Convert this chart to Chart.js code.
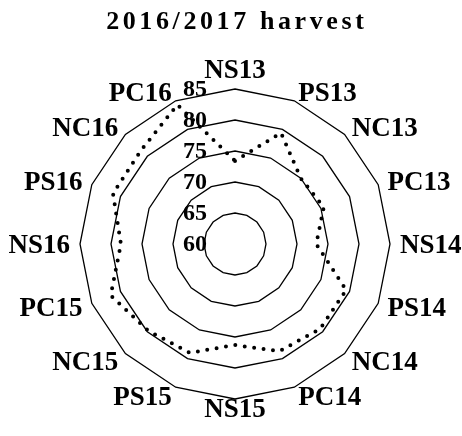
<!DOCTYPE html>
<html>
<head>
<meta charset="utf-8">
<script src="https://cdn.jsdelivr.net/npm/chart.js@4/dist/chart.umd.min.js"></script>
<style>
    body { margin: 0; background: #fff; }
    #wrap { position: relative; width: 462px; height: 436px; }
    #title {
        position: absolute; top: 8px; left: 4px; width: 462px;
        text-align: center; font: bold 26px "Liberation Serif", serif;
        line-height: 26px; letter-spacing: 3.6px; padding-left: 3.6px; box-sizing: border-box;
        color: #000;
    }
</style>
</head>
<body>
<div id="wrap">
    <div id="title">2016/2017 harvest</div>
    <canvas id="radarChart" width="462" height="436"></canvas>
</div>
<script>
const categories = ['NS13', 'PS13', 'NC13', 'PC13', 'NS14', 'PS14', 'NC14', 'PC14',
                    'NS15', 'PS15', 'NC15', 'PC15', 'NS16', 'PS16', 'NC16', 'PC16'];
const harvestValues = [73.4, 79.4, 75.0, 75.5, 73.1, 79.4, 79.4, 78.7,
                       76.3, 79.0, 79.8, 81.7, 78.4, 81.3, 81.4, 84.3];
const tickValues = [60, 65, 70, 75, 80, 85];

// tick labels sit left of the centre line, including the 60 at the centre
const tickLabelPlugin = {
    id: 'tickLabels',
    afterDatasetsDraw(chart) {
        const scale = chart.scales.r;
        const ctx = chart.ctx;
        ctx.save();
        ctx.font = 'bold 24px "Liberation Serif"';
        ctx.fillStyle = '#000';
        ctx.textAlign = 'right';
        ctx.textBaseline = 'middle';
        tickValues.forEach(function (v) {
            const d = scale.getDistanceFromCenterForValue(v);
            ctx.fillText(String(v), scale.xCenter - 28, scale.yCenter - d + 1);
        });
        ctx.restore();
    }
};

// category labels: side labels hug the outer ring, vertically centred
const pointLabelPlugin = {
    id: 'catLabels',
    afterDraw(chart) {
        const scale = chart.scales.r;
        const ctx = chart.ctx;
        const n = categories.length;
        ctx.save();
        ctx.font = 'bold 27px "Liberation Serif"';
        ctx.fillStyle = '#000';
        categories.forEach(function (label, i) {
            const deg = i * 360 / n;
            if (deg === 0) {
                const p = scale.getPointPosition(i, scale.drawingArea + 11);
                ctx.textAlign = 'center';
                ctx.textBaseline = 'alphabetic';
                ctx.fillText(label, p.x, p.y);
            } else if (deg === 180) {
                const p = scale.getPointPosition(i, scale.drawingArea - 2);
                ctx.textAlign = 'center';
                ctx.textBaseline = 'top';
                ctx.fillText(label, p.x, p.y);
            } else {
                const p = scale.getPointPosition(i, scale.drawingArea + 10);
                ctx.textAlign = deg < 180 ? 'left' : 'right';
                ctx.textBaseline = 'middle';
                ctx.fillText(label, p.x, p.y + 2);
            }
        });
        ctx.restore();
    }
};

document.addEventListener('DOMContentLoaded', function () {
    const ctx = document.getElementById('radarChart');

    new Chart(ctx, {
        type: 'radar',
        data: {
            labels: categories,
            datasets: [{
                data: harvestValues,
                borderColor: '#000',
                borderWidth: 4,
                borderDash: [0, 9.5],
                borderCapStyle: 'round',
                fill: false,
                pointRadius: 0,
                tension: 0
            }]
        },
        options: {
            responsive: false,
            animation: false,
            layout: { padding: { top: 89, left: 80, right: 72, bottom: 37 } },
            plugins: {
                legend: { display: false },
                tooltip: { enabled: false }
            },
            scales: {
                r: {
                    min: 60,
                    max: 85,
                    ticks: { stepSize: 5, display: false },
                    grid: { color: '#000', lineWidth: 1.3 },
                    angleLines: { display: false },
                    pointLabels: { display: false }
                }
            }
        },
        plugins: [tickLabelPlugin, pointLabelPlugin]
    });
});
</script>
</body>
</html>
